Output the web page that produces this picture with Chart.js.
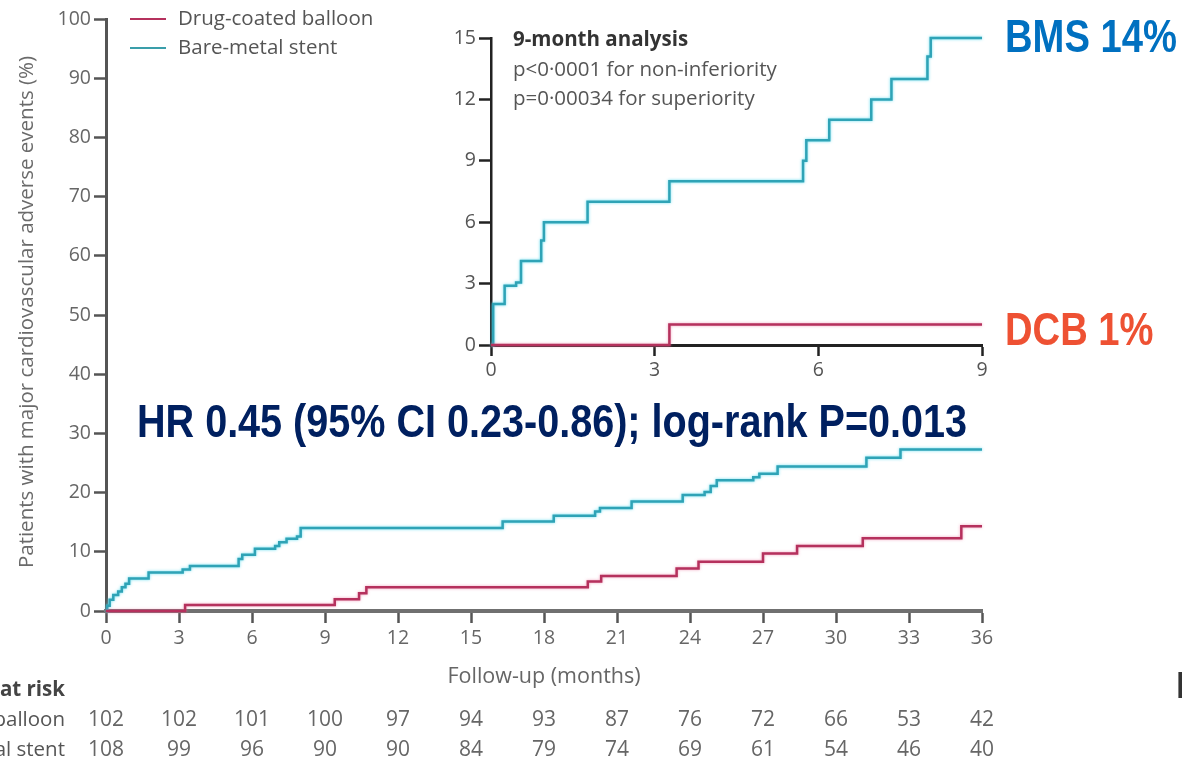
<!DOCTYPE html>
<html>
<head>
<meta charset="utf-8">
<script src="https://cdn.jsdelivr.net/npm/chart.js@4.4.1/dist/chart.umd.min.js"></script>
<style>
  html, body { margin: 0; padding: 0; background: #fff; overflow: hidden; }
  #wrap { position: relative; width: 1182px; height: 764px; }
  #main { position: absolute; left: 0; top: 0; width: 1182px; height: 764px; }
  #inset { position: absolute; left: 420px; top: 0; width: 580px; height: 400px; }
</style>
</head>
<body>
<div id="wrap">
  <canvas id="main" width="1182" height="764"></canvas>
  <canvas id="inset" width="580" height="400"></canvas>
</div>
<script>
// ---- 36-month Kaplan-Meier curves (months, cumulative % with MACE) ----
const dcbMonths = [0, 3.25, 9.4, 10.4, 10.7, 19.8, 20.35, 23.45, 24.35, 27.0, 28.4, 31.1, 35.15, 36];
const dcbPct    = [0, 1.0, 2.0, 3.0, 4.0, 5.0, 5.9, 7.2, 8.3, 9.7, 11.0, 12.3, 14.3, 14.3];

const bmsMonths = [0, 0.05, 0.15, 0.3, 0.5, 0.65, 0.8, 0.95, 1.75, 3.15, 3.45, 5.45, 5.6, 6.12, 6.95, 7.12, 7.42, 7.85, 8.0,
                   16.3, 18.4, 20.1, 20.3, 21.6, 23.7, 24.6, 24.85, 25.1, 26.6, 26.85, 27.6, 31.25, 32.65, 36];
const bmsPct    = [0, 0.9, 1.9, 2.7, 3.3, 4.0, 4.6, 5.5, 6.5, 7.0, 7.6, 8.8, 9.5, 10.5, 11.0, 11.6, 12.2, 12.6, 14.0,
                   15.1, 16.1, 16.8, 17.4, 18.5, 19.6, 20.1, 21.1, 22.1, 22.6, 23.2, 24.4, 25.9, 27.3, 27.3];

// ---- 9-month analysis ----
const insetDcbMonths = [0, 3.27, 9];
const insetDcbPct    = [0, 1.0, 1.0];
const insetBmsMonths = [0, 0.04, 0.25, 0.46, 0.55, 0.92, 0.97, 1.77, 3.27, 5.72, 5.78, 6.2, 6.97, 7.34, 8.0, 8.06, 9];
const insetBmsPct    = [0, 2.0, 2.9, 3.05, 4.1, 5.1, 6.0, 7.0, 8.0, 9.0, 10.0, 11.0, 12.0, 13.0, 14.1, 15.0, 15.0];

// ---- numbers at risk (every 3 months) ----
const riskMonths = [0, 3, 6, 9, 12, 15, 18, 21, 24, 27, 30, 33, 36];
const riskDcb = [102, 102, 101, 100, 97, 94, 93, 87, 76, 72, 66, 53, 42];
const riskBms = [108, 99, 96, 90, 90, 84, 79, 74, 69, 61, 54, 46, 40];

const seriesNames = ['Drug-coated balloon', 'Bare-metal stent'];
const riskTitle = 'Number at risk';
const yTitle = 'Patients with major cardiovascular adverse events (%)';
const xTitle = 'Follow-up (months)';
const insetNotes = ['9-month analysis', 'p<0·0001 for non-inferiority', 'p=0·00034 for superiority'];
const hrText = 'HR 0.45 (95% CI 0.23-0.86); log-rank P=0.013';
const bmsCallout = 'BMS 14%';
const dcbCallout = 'DCB 1%';

const DCB_COLOR = '#B5315D';
const BMS_COLOR = '#2FA3B6';
const FONT = '"Open Sans", "DejaVu Sans", sans-serif';
const BOLD_FONT = '"Liberation Sans", Arial, sans-serif';

function toXY(xs, ys) { return xs.map((x, i) => ({ x, y: ys[i] })); }

// soft halo around the curves
const glow = {
  id: 'glow',
  beforeDatasetDraw(chart, args) {
    const ctx = chart.ctx;
    ctx.save();
    ctx.shadowColor = args.index === 0 ? 'rgba(236,120,160,0.7)' : 'rgba(90,220,240,0.9)';
    ctx.shadowBlur = 3;
  },
  afterDatasetDraw(chart) { chart.ctx.restore(); }
};

function squeezedText(ctx, text, x, y, size, color, squeeze) {
  ctx.save();
  ctx.font = `bold ${size}px ${BOLD_FONT}`;
  ctx.fillStyle = color;
  ctx.textAlign = 'left';
  ctx.textBaseline = 'alphabetic';
  ctx.translate(x, y);
  ctx.scale(squeeze, 1);
  ctx.fillText(text, 0, 0);
  ctx.restore();
}

const mainOverlay = {
  id: 'mainOverlay',
  afterDraw(chart) {
    const ctx = chart.ctx;
    const xs = chart.scales.x;
    const area = chart.chartArea;
    ctx.save();

    // legend
    const legendColors = [DCB_COLOR, '#3A9EAA'];
    ctx.font = `20.5px ${FONT}`;
    ctx.textBaseline = 'middle';
    ctx.textAlign = 'left';
    seriesNames.forEach((name, i) => {
      const y = 19 + i * 29;
      ctx.strokeStyle = legendColors[i];
      ctx.lineWidth = 2;
      ctx.beginPath(); ctx.moveTo(130, y); ctx.lineTo(166, y); ctx.stroke();
      ctx.fillStyle = '#555';
      ctx.fillText(name, 178, y);
    });

    // y-axis title
    ctx.save();
    ctx.translate(27, 312);
    ctx.rotate(-Math.PI / 2);
    ctx.textAlign = 'center';
    ctx.textBaseline = 'middle';
    ctx.font = `20.5px ${FONT}`;
    ctx.fillStyle = '#6a6a6a';
    ctx.fillText(yTitle, 0, 0);
    ctx.restore();

    // x-axis title
    ctx.font = `21.5px ${FONT}`;
    ctx.fillStyle = '#666';
    ctx.textAlign = 'center';
    ctx.textBaseline = 'middle';
    ctx.fillText(xTitle, (area.left + area.right) / 2, 677);

    // numbers at risk
    ctx.textAlign = 'right';
    ctx.font = `bold 20.5px ${FONT}`;
    ctx.fillStyle = '#444';
    ctx.fillText(riskTitle, 65, 690);
    ctx.font = `20.5px ${FONT}`;
    ctx.fillStyle = '#555';
    ctx.fillText(seriesNames[0], 65, 720);
    ctx.fillText(seriesNames[1], 65, 750);
    ctx.textAlign = 'center';
    ctx.fillStyle = '#666';
    ctx.font = `21px ${FONT}`;
    riskMonths.forEach((m, i) => {
      const x = xs.getPixelForValue(m);
      ctx.fillText(String(riskDcb[i]), x, 720);
      ctx.fillText(String(riskBms[i]), x, 750);
    });

    // statistics and callouts
    squeezedText(ctx, hrText, 137, 437, 46, '#002060', 0.86);
    squeezedText(ctx, bmsCallout, 1005, 52, 46, '#0070C0', 0.83);
    squeezedText(ctx, dcbCallout, 1005, 345, 46, '#EE5133', 0.83);
    squeezedText(ctx, 'N', 1176, 698, 36, '#333', 1);

    ctx.restore();
  }
};

const insetOverlay = {
  id: 'insetOverlay',
  afterDraw(chart) {
    const ctx = chart.ctx;
    const left = chart.chartArea.left + 22;
    ctx.save();
    ctx.textAlign = 'left';
    ctx.textBaseline = 'middle';
    ctx.font = `bold 20.5px ${FONT}`;
    ctx.fillStyle = '#333';
    ctx.fillText(insetNotes[0], left, 40);
    ctx.font = `20.5px ${FONT}`;
    ctx.fillStyle = '#555';
    ctx.fillText(insetNotes[1], left, 70);
    ctx.fillText(insetNotes[2], left, 99);
    ctx.restore();
  }
};

function stepLine(label, xs, ys, color) {
  return {
    label, data: toXY(xs, ys), borderColor: color, backgroundColor: color,
    borderWidth: 2.5, stepped: 'before', pointRadius: 0, fill: false, clip: 6
  };
}

const tickFont = { family: FONT, size: 19.5 };

new Chart(document.getElementById('main'), {
  type: 'line',
  data: {
    datasets: [
      stepLine(seriesNames[0], dcbMonths, dcbPct, DCB_COLOR),
      stepLine(seriesNames[1], bmsMonths, bmsPct, BMS_COLOR)
    ]
  },
  options: {
    responsive: false, animation: false, devicePixelRatio: 1,
    layout: { padding: { left: 0, right: 200, top: 19, bottom: 0 } },
    plugins: { legend: { display: false }, tooltip: { enabled: false } },
    scales: {
      x: {
        type: 'linear', min: 0, max: 36,
        ticks: { stepSize: 3, autoSkip: false, maxRotation: 0, color: '#666', font: tickFont, padding: 4 },
        grid: { drawOnChartArea: false, drawTicks: true, tickLength: 12, tickWidth: 2.5, tickColor: '#555' },
        border: { display: true, color: '#707070', width: 4 },
        afterFit: s => { s.height = 153; }
      },
      y: {
        type: 'linear', min: 0, max: 100,
        ticks: { stepSize: 10, color: '#666', font: tickFont, padding: 3 },
        grid: { drawOnChartArea: false, drawTicks: true, tickLength: 12, tickWidth: 2.5, tickColor: '#555' },
        border: { display: true, color: '#555', width: 3 },
        afterFit: s => { s.width = 106; }
      }
    }
  },
  plugins: [glow, mainOverlay]
});

new Chart(document.getElementById('inset'), {
  type: 'line',
  data: {
    datasets: [
      stepLine(seriesNames[0], insetDcbMonths, insetDcbPct, DCB_COLOR),
      stepLine(seriesNames[1], insetBmsMonths, insetBmsPct, BMS_COLOR)
    ]
  },
  options: {
    responsive: false, animation: false, devicePixelRatio: 1,
    layout: { padding: { left: 0, right: 18, top: 38, bottom: 0 } },
    plugins: { legend: { display: false }, tooltip: { enabled: false } },
    scales: {
      x: {
        type: 'linear', min: 0, max: 9,
        ticks: { stepSize: 3, autoSkip: false, maxRotation: 0, color: '#555', font: tickFont, padding: 3 },
        grid: { drawOnChartArea: false, drawTicks: true, tickLength: 11, tickWidth: 2.5, tickColor: '#222' },
        border: { display: true, color: '#222', width: 3 },
        afterFit: s => { s.height = 55; }
      },
      y: {
        type: 'linear', min: 0, max: 15,
        ticks: { stepSize: 3, color: '#555', font: tickFont, padding: 3 },
        grid: { drawOnChartArea: false, drawTicks: true, tickLength: 12, tickWidth: 2.5, tickColor: '#222' },
        border: { display: true, color: '#222', width: 2.5 },
        afterFit: s => { s.width = 71; }
      }
    }
  },
  plugins: [glow, insetOverlay]
});
</script>
</body>
</html>
